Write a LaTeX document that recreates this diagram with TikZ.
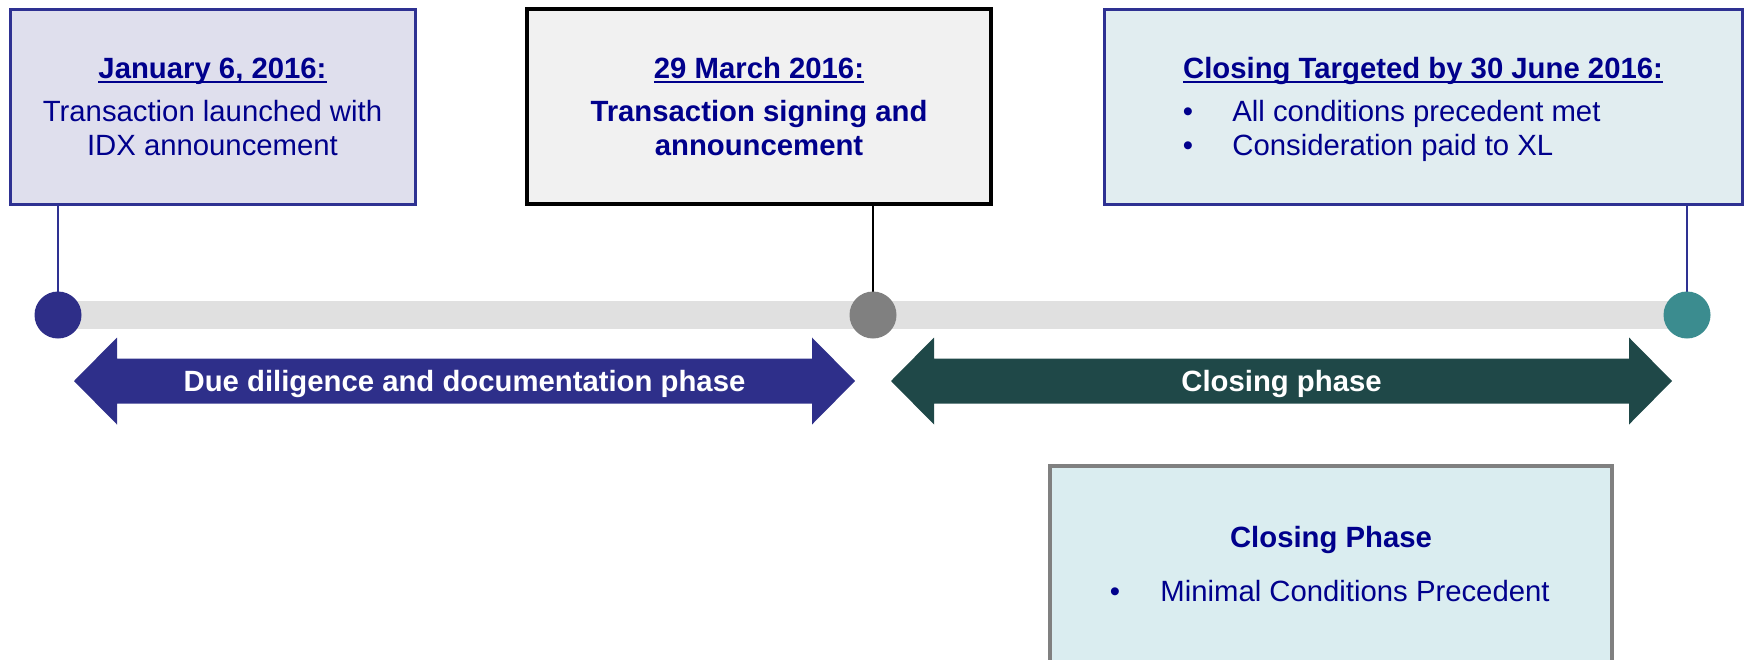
\documentclass[tikz,border=0pt]{standalone}
\usepackage{fontspec}
\setmainfont{Liberation Sans}
\usetikzlibrary{calc}
\definecolor{navy}{HTML}{2E3192}
\definecolor{txt}{HTML}{00008C}
\definecolor{fillA}{HTML}{DFDFED}
\definecolor{fillB}{HTML}{F1F1F1}
\definecolor{fillC}{HTML}{E1EDF0}
\definecolor{fillD}{HTML}{DAEDF0}
\definecolor{barc}{HTML}{E0E0E0}
\definecolor{dotA}{HTML}{2E2E88}
\definecolor{dotB}{HTML}{808080}
\definecolor{dotC}{HTML}{3B8C8F}
\definecolor{arrA}{HTML}{2E2F8A}
\definecolor{arrB}{HTML}{1F4848}
\newcommand\myul[1]{\setbox0\hbox{#1}\rlap{\rule[-2.1pt]{\wd0}{1.07pt}}\box0}
\tikzset{
  x=0.5pt, y=-0.5pt,
  box/.style={rectangle, inner sep=0pt, minimum height=97.5pt},
  tx/.style={inner sep=0pt, text=txt, font=\fontsize{14.65}{17}\selectfont, anchor=base},
  bx/.style={tx, font=\fontsize{14.65}{17}\selectfont\bfseries},
  wt/.style={inner sep=0pt, text=white, font=\fontsize{14.65}{17}\selectfont\bfseries, anchor=base},
  dot/.style={circle, inner sep=0pt, minimum size=23.5pt},
  stem/.style={line width=1pt},
}
\begin{document}
\begin{tikzpicture}
\useasboundingbox (0,0) rectangle (1748,659);
\clip (0,0) rectangle (1748,659);
% boxes
\node[box, draw=navy, line width=1.5pt, fill=fillA, minimum width=202.5pt] (b1) at (212.5,106.5) {};
\node[box, draw=black, line width=2pt, fill=fillB, minimum width=232pt] (b2) at (759,106.5) {};
\node[box, draw=navy, line width=1.5pt, fill=fillC, minimum width=319pt] (b3) at (1423,106.5) {};
\node[box, draw=dotB, line width=2pt, fill=fillD, minimum width=281pt, minimum height=98pt] (b4) at (1331,564) {};
% bar and dots
\coordinate (p1) at (58,315);
\coordinate (p2) at (873,315);
\coordinate (p3) at (1687,315);
\fill[barc] ($(p1)+(0,-14)$) rectangle ($(p3)+(0,14)$);
\draw[stem, navy] (p1 |- b1.south) -- (p1);
\draw[stem, black] (p2 |- b2.south) -- (p2);
\draw[stem, navy] (p3 |- b3.south) -- (p3);
\node[dot, fill=dotA] (c1) at (p1) {};
\node[dot, fill=dotB] (c2) at (p2) {};
\node[dot, fill=dotC] (c3) at (p3) {};
% double arrows
\fill[arrA] (74,381) -- (117,337.5) -- (117,358.5) -- (812,358.5) -- (812,337.5) -- (855,381)
  -- (812,424.5) -- (812,403.5) -- (117,403.5) -- (117,424.5) -- cycle;
\fill[arrB] (891,381) -- (934,337.5) -- (934,358.5) -- (1629,358.5) -- (1629,337.5) -- (1672,381)
  -- (1629,424.5) -- (1629,403.5) -- (934,403.5) -- (934,424.5) -- cycle;
\node[wt] (a1) at (464.5,391.5) {Due diligence and documentation phase};
\node[wt] (a2) at (1281.5,391.5) {Closing phase};
% box 1 text
\node[bx] (t11) at (212.5,78.5) {\myul{January 6, 2016:}};
\node[tx] (t12) at (212.5,121.5) {Transaction launched with};
\node[tx] (t13) at (212.5,155.5) {IDX announcement};
% box 2 text
\node[bx] (t21) at (759,78.5) {\myul{29 March 2016:}};
\node[bx] (t22) at (759,121.5) {Transaction signing and};
\node[bx] (t23) at (759,155.5) {announcement};
% box 3 text
\node[bx] (t31) at (1423,78.5) {\myul{Closing Targeted by 30 June 2016:}};
\node[tx] (t32b) at (1188,121.5) {•};
\node[tx, anchor=base west] (t32) at (1232,121.5) {All conditions precedent met};
\node[tx] (t33b) at (1188,155.5) {•};
\node[tx, anchor=base west] (t33) at (1232,155.5) {Consideration paid to XL};
% box 4 text
\node[bx] (t41) at (1331,547.5) {Closing Phase};
\node[tx] (t42b) at (1115,601.5) {•};
\node[tx, anchor=base west] (t42) at (1160,601.5) {Minimal Conditions Precedent};
\end{tikzpicture}
\end{document}
